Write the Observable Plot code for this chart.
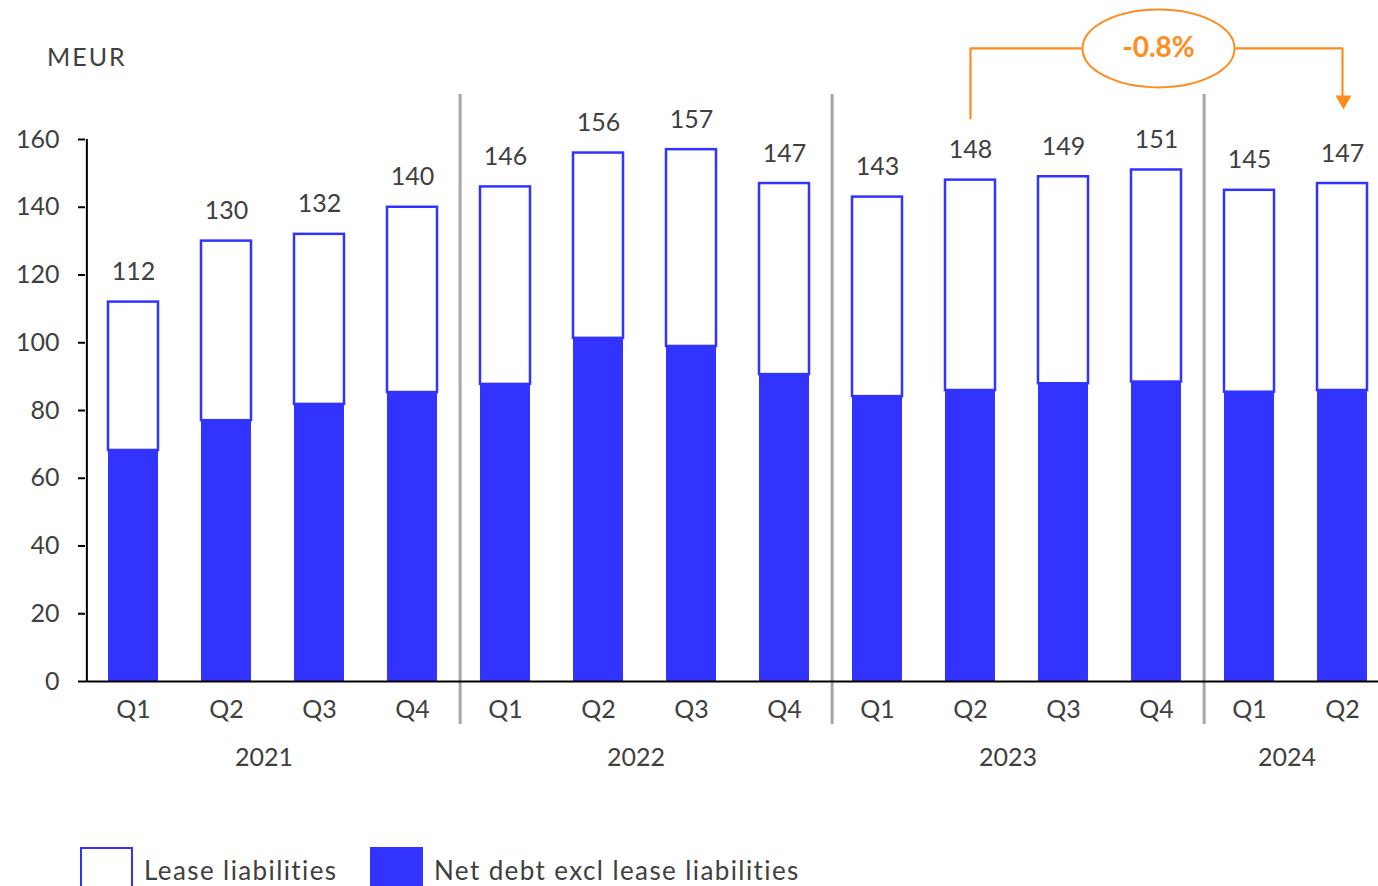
<!DOCTYPE html>
<html>
<head>
<meta charset="utf-8">
<script src="https://cdn.jsdelivr.net/npm/d3@7"></script>
<script src="https://cdn.jsdelivr.net/npm/@observablehq/plot@0.6"></script>
<style>
  body { margin: 0; background: #fff; font-family: Lato, "Open Sans", sans-serif; }
  #wrap { position: relative; width: 1378px; height: 886px; overflow: hidden; background: #fff; }
  #unit { position: absolute; left: 47px; top: 41px; font-size: 25px; color: #404040; letter-spacing: 2px; }
  .item { position: absolute; top: 847px; display: flex; align-items: center; font-size: 26px; color: #404040; letter-spacing: 1.4px; }
  .sw { display: inline-block; width: 53px; height: 46px; box-sizing: border-box; margin-right: 11px; }
</style>
</head>
<body>
<div id="wrap"></div>
<script>
// Quarterly net debt, MEUR
const quarters = ["Q1","Q2","Q3","Q4","Q1","Q2","Q3","Q4","Q1","Q2","Q3","Q4","Q1","Q2"];
const years = ["2021","2021","2021","2021","2022","2022","2022","2022","2023","2023","2023","2023","2024","2024"];
const totalNetDebt = [112, 130, 132, 140, 146, 156, 157, 147, 143, 148, 149, 151, 145, 147];
const netDebtExclLease = [68.2, 77.0, 81.8, 85.3, 87.7, 101.3, 98.9, 90.6, 84.1, 85.9, 87.9, 88.4, 85.4, 85.9];
const yTicks = [0, 20, 40, 60, 80, 100, 120, 140, 160];
const seriesNames = ["Lease liabilities", "Net debt excl lease liabilities"];
const unitLabel = "MEUR";

// Change annotation between two quarters
const changeText = "-0.8%";
const changeFrom = "2023 Q2";
const changeTo = "2024 Q2";
const changeLabelAt = "2023 Q4";

const blue = "#3333ff";
const orange = "#ff8c1f";
const textColor = "#404040";

const keys = quarters.map((q, i) => `${years[i]} ${q}`);
const rows = keys.map((key, i) => ({
  key, q: quarters[i], year: years[i],
  total: totalNetDebt[i], net: netDebtExclLease[i]
}));

const H = 830;
const xRange = [85.4, 1390.8];
const step = (xRange[1] - xRange[0]) / keys.length;

// One label per year, centred over its quarters
const yearLabels = d3.groups(rows, d => d.year).map(([year, members]) => ({
  year, anchor: members[members.length / 2 - 1].key
}));
// Separators after the last quarter of every year but the final one
const separators = d3.groups(rows, d => d.year).slice(0, -1).map(([, m]) => ({key: m[m.length - 1].key}));

// Annotation levels (in MEUR)
const bracketLevel = 186.9;
const bracketPath = [
  {key: changeFrom, v: 166.2},
  {key: changeFrom, v: bracketLevel},
  {key: changeTo, v: bracketLevel},
  {key: changeTo, v: 172.8}
];

const ellipseSymbol = {
  draw(ctx) {
    const rx = 76, ry = 39, k = 0.5523;
    ctx.moveTo(-rx, 0);
    ctx.bezierCurveTo(-rx, -ry * k, -rx * k, -ry, 0, -ry);
    ctx.bezierCurveTo(rx * k, -ry, rx, -ry * k, rx, 0);
    ctx.bezierCurveTo(rx, ry * k, rx * k, ry, 0, ry);
    ctx.bezierCurveTo(-rx * k, ry, -rx, ry * k, -rx, 0);
    ctx.closePath();
  }
};
const arrowDown = {
  draw(ctx) {
    ctx.moveTo(-8, -7);
    ctx.lineTo(8, -7);
    ctx.lineTo(0, 7);
    ctx.closePath();
  }
};

const chart = Plot.plot({
  width: 1378,
  height: H,
  marginLeft: 85,
  marginRight: 0,
  marginTop: 139,
  marginBottom: H - 681,
  style: {fontFamily: "Lato, 'Open Sans', sans-serif", fontSize: "25px", color: textColor, background: "white", overflow: "visible"},
  x: {domain: keys, range: xRange, paddingInner: 0.46, paddingOuter: 0.23, axis: null},
  y: {domain: [0, 160]},
  marks: [
    Plot.ruleX(separators, {x: "key", dx: step / 2 + 1, y1: -12.7, y2: 173.3, stroke: "#a6a6a6", strokeWidth: 3}),
    Plot.barY(rows, {x: "key", y1: 0, y2: "net", fill: blue}),
    Plot.barY(rows, {x: "key", y1: "net", y2: "total", fill: "white", stroke: blue, strokeWidth: 2.5}),
    Plot.text(rows, {x: "key", y: "total", text: d => String(d.total), dy: -30, fontSize: 25, fill: textColor}),
    Plot.axisY({ticks: yTicks, tickSize: 7, tickPadding: 19, fontSize: 25, stroke: "#000", strokeWidth: 2, fill: textColor, label: null}),
    Plot.ruleX([keys[0]], {dx: -step / 2, y1: 0, y2: 160, stroke: "#000", strokeWidth: 2}),
    Plot.ruleY([0], {stroke: "#000", strokeWidth: 2}),
    Plot.text(rows, {x: "key", text: "q", frameAnchor: "bottom", lineAnchor: "middle", dy: 28, fontSize: 25, fill: textColor}),
    Plot.text(yearLabels, {x: "anchor", text: "year", frameAnchor: "bottom", lineAnchor: "middle", dx: step / 2 - 9, dy: 76, fontSize: 25, fill: textColor}),
    Plot.line(bracketPath, {x: "key", y: "v", stroke: orange, strokeWidth: 2.2, curve: "linear"}),
    Plot.dot([{key: changeTo, v: 170.9}], {x: "key", y: "v", symbol: arrowDown, r: 5, fill: orange, stroke: "none", dx: 1}),
    Plot.dot([{key: changeLabelAt, v: bracketLevel}], {x: "key", y: "v", symbol: ellipseSymbol, r: 5, dx: 2, fill: "white", stroke: orange, strokeWidth: 2}),
    Plot.text([{key: changeLabelAt, v: bracketLevel, label: changeText}], {x: "key", y: "v", text: "label", dx: 2, fontSize: 28, fontWeight: "bold", fill: orange})
  ]
});

const wrap = document.getElementById("wrap");
wrap.appendChild(chart);

const unit = document.createElement("div");
unit.id = "unit";
unit.textContent = unitLabel;
wrap.appendChild(unit);

// Legend below the chart
const legendLefts = [80, 370];
seriesNames.forEach((name, i) => {
  const item = document.createElement("div");
  item.className = "item";
  item.style.left = legendLefts[i] + "px";
  const sw = document.createElement("span");
  sw.className = "sw";
  if (i === 0) { sw.style.border = `2px solid ${blue}`; sw.style.background = "#fff"; }
  else { sw.style.background = blue; }
  const label = document.createElement("span");
  label.textContent = name;
  item.appendChild(sw);
  item.appendChild(label);
  wrap.appendChild(item);
});
</script>
</body>
</html>
